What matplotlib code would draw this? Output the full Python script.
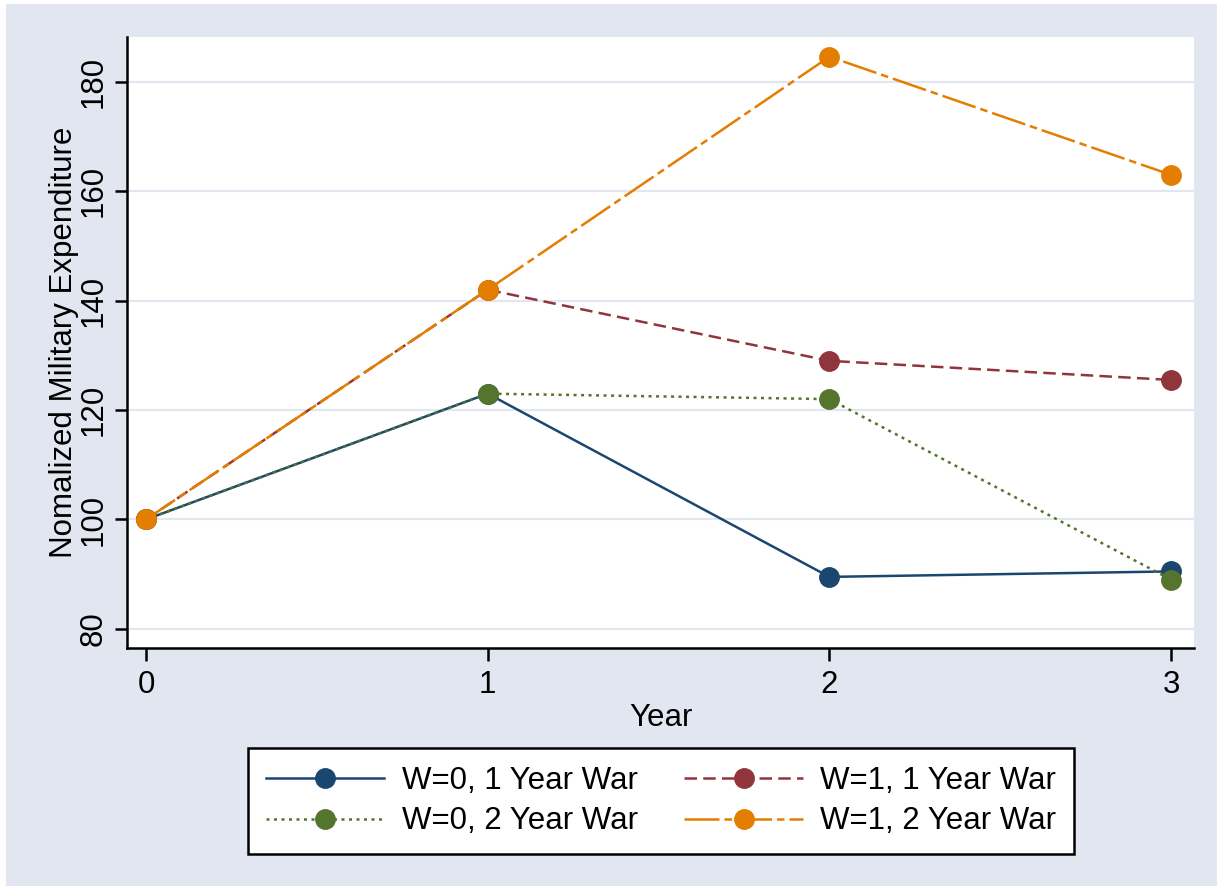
import matplotlib.pyplot as plt
from matplotlib.patches import Rectangle

plt.rcParams['font.family'] = ['Liberation Sans', 'DejaVu Sans']

# Data
years = [0, 1, 2, 3]
w0_1yr = [100, 123, 89.5, 90.5]
w1_1yr = [100, 142, 129, 125.5]
w0_2yr = [100, 123, 122, 89]
w1_2yr = [100, 142, 184.6, 163]
labels = ['W=0, 1 Year War', 'W=1, 1 Year War', 'W=0, 2 Year War', 'W=1, 2 Year War']

navy = '#1a476f'
maroon = '#90353b'
green = '#55752f'
orange = '#e37e00'
bg = '#e1e6f0'

fig = plt.figure(figsize=(12.23, 8.9), dpi=100)
fig.patch.set_facecolor('white')
fig.patches.append(Rectangle((6 / 1223, 4 / 890), 1211 / 1223, 882 / 890,
                             transform=fig.transFigure, facecolor=bg,
                             edgecolor='none', zorder=-10))

ax = fig.add_axes([127 / 1223, 1 - 648 / 890, 1067 / 1223, 611 / 890])
ax.set_facecolor('white')

lw = 1.8
ms = 14
h1, = ax.plot(years, w0_1yr, color=navy, lw=lw, marker='o', ms=ms, ls='-')
h2, = ax.plot(years, w1_1yr, color=maroon, lw=lw, marker='o', ms=ms, dashes=(5, 2.5))
h3, = ax.plot(years, w0_2yr, color=green, lw=lw, marker='o', ms=ms, dashes=(1.2, 1.8))
h4, = ax.plot(years, w1_2yr, color=orange, lw=lw, marker='o', ms=ms, dashes=(14, 2, 3, 2))

ax.set_xlim(-0.0556, 3.067)
ax.set_ylim(76.5, 188.2)
ax.set_xticks([0, 1, 2, 3])
ax.set_yticks([80, 100, 120, 140, 160, 180])
ax.yaxis.grid(True, color=bg, lw=1.5)
ax.set_axisbelow(True)

for s in ['top', 'right']:
    ax.spines[s].set_visible(False)
for s in ['left', 'bottom']:
    ax.spines[s].set_linewidth(1.8)

ax.tick_params(axis='both', direction='out', length=9, width=1.8, labelsize=22.5, pad=7)
ax.tick_params(axis='y', pad=4)
for lab in ax.get_yticklabels():
    lab.set_rotation(90)
    lab.set_va('center')

ax.set_xlabel('Year', fontsize=22.5, labelpad=2)
ax.set_ylabel('Nomalized Military Expenditure', fontsize=22.5, labelpad=0)

leg = fig.legend([h1, h3, h2, h4], [labels[0], labels[2], labels[1], labels[3]],
                 ncol=2, loc='center', bbox_to_anchor=(661 / 1223, 1 - 801 / 890),
                 fontsize=22.5, frameon=True, fancybox=False, edgecolor='black',
                 facecolor='white', framealpha=1,
                 handlelength=3.8, handletextpad=0.55, columnspacing=1.5,
                 labelspacing=0.35, borderpad=0.55)
leg.get_frame().set_linewidth(1.8)

fig.savefig('out.png', dpi=100)
